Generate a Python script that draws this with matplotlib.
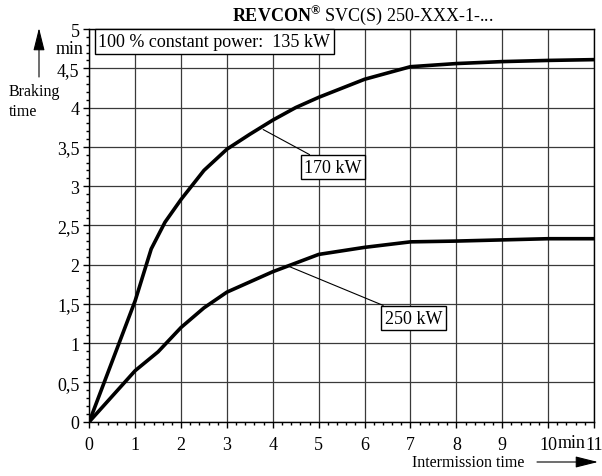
import matplotlib
matplotlib.use('Agg')
import matplotlib.pyplot as plt
from matplotlib.ticker import MultipleLocator, FuncFormatter
import matplotlib.transforms as mtransforms

plt.rcParams['font.family'] = ['Liberation Serif', 'DejaVu Serif']
plt.rcParams['mathtext.fontset'] = 'custom'
plt.rcParams['mathtext.rm'] = 'Liberation Serif'
plt.rcParams['mathtext.bf'] = 'Liberation Serif:bold'

# braking time curves (intermission time in min -> braking time in min)
x_170 = [0, 1, 1.35, 1.65, 2, 2.5, 3, 3.5, 4, 4.5, 5, 6, 7, 8, 9, 10, 11]
y_170 = [0, 1.54, 2.2, 2.54, 2.83, 3.2, 3.47, 3.66, 3.84, 4.0, 4.13, 4.36, 4.52, 4.56, 4.585, 4.6, 4.61]

x_250 = [0, 1, 1.5, 2, 2.5, 3, 4, 5, 6, 7, 8, 9, 10, 11]
y_250 = [0, 0.65, 0.89, 1.2, 1.45, 1.65, 1.91, 2.13, 2.22, 2.29, 2.30, 2.315, 2.33, 2.33]

x_ticks = [0, 1, 2, 3, 4, 5, 6, 7, 8, 9, 10, 11]
y_ticks = [0, 0.5, 1, 1.5, 2, 2.5, 3, 3.5, 4, 4.5, 5]

FS = 13
FS_CAP = 11.5

fig = plt.figure(figsize=(6.02, 4.77), dpi=100)
ax = fig.add_axes([0.1483, 0.1138, 0.8384, 0.8233])

ax.plot(x_170, y_170, color='black', lw=2.6, solid_joinstyle='round', zorder=3)
ax.plot(x_250, y_250, color='black', lw=2.6, solid_joinstyle='round', zorder=3)

ax.set_xlim(0, 11)
ax.set_ylim(0, 5)
ax.set_xticks(x_ticks)
ax.set_yticks(y_ticks)
ax.xaxis.set_minor_locator(MultipleLocator(0.2))
ax.yaxis.set_minor_locator(MultipleLocator(0.1))

def comma(v, pos):
    s = ('%g' % v).replace('.', ',')
    return s

ax.yaxis.set_major_formatter(FuncFormatter(comma))
ax.xaxis.set_major_formatter(FuncFormatter(comma))
ax.tick_params(which='major', direction='out', length=4, width=1, labelsize=FS, pad=3)
ax.tick_params(axis='x', which='major', pad=6)
ax.tick_params(which='minor', direction='out', length=2.5, width=1)
ax.grid(True, which='major', color='#3a3a3a', lw=0.9)
for s in ax.spines.values():
    s.set_linewidth(1.0)

# "min" unit labels
ax.text(-0.012, 4.75, 'min', transform=mtransforms.blended_transform_factory(ax.transAxes, ax.transData),
        ha='right', va='center', fontsize=FS)
ax.text(10.52, -0.052, 'min', transform=mtransforms.blended_transform_factory(ax.transData, ax.transAxes),
        ha='center', va='center', fontsize=FS)

# info box
ax.text(0.2, 4.84, '100 % constant power:  135 kW', ha='left', va='center', fontsize=FS,
        bbox=dict(boxstyle='square,pad=0.2', fc='white', ec='black', lw=1), zorder=5)

# curve labels
ax.annotate('170 kW', xy=(3.79, 3.72), xytext=(5.31, 3.24), ha='center', va='center', fontsize=FS,
            bbox=dict(boxstyle='square,pad=0.2', fc='white', ec='black', lw=1),
            arrowprops=dict(arrowstyle='-', color='black', lw=0.8, shrinkA=0, shrinkB=0), zorder=5)
ax.annotate('250 kW', xy=(4.34, 1.98), xytext=(7.07, 1.32), ha='center', va='center', fontsize=FS,
            bbox=dict(boxstyle='square,pad=0.2', fc='white', ec='black', lw=1),
            arrowprops=dict(arrowstyle='-', color='black', lw=0.8, shrinkA=0, shrinkB=0), zorder=5)

# title
fig.text(363 / 602, 1 - 15 / 477, r'$\mathbf{REVCON}^{\mathbf{®}}$ SVC(S) 250-XXX-1-...',
         ha='center', va='center', fontsize=FS)

# axis captions with arrows
fig.text(9 / 602, 1 - 102 / 477, 'Braking\ntime', ha='left', va='center', fontsize=FS_CAP, linespacing=1.35)
ax.annotate('', xy=(39 / 602, 1 - 29 / 477), xytext=(39 / 602, 1 - 78 / 477),
            xycoords='figure fraction', textcoords='figure fraction',
            arrowprops=dict(arrowstyle='-|>,head_length=1.4,head_width=0.35', color='black', lw=0.8,
                            shrinkA=0, shrinkB=0))
fig.text(468 / 602, 1 - 463 / 477, 'Intermission time', ha='center', va='center', fontsize=FS_CAP)
ax.annotate('', xy=(598 / 602, 1 - 463 / 477), xytext=(537 / 602, 1 - 463 / 477),
            xycoords='figure fraction', textcoords='figure fraction',
            arrowprops=dict(arrowstyle='-|>,head_length=1.4,head_width=0.35', color='black', lw=0.8,
                            shrinkA=0, shrinkB=0))

fig.savefig('out.png', dpi=100)
